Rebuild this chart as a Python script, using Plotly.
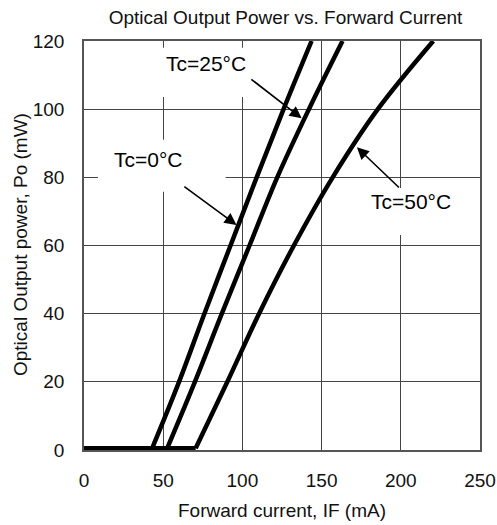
import plotly.graph_objects as go

# Optical output power levels (mW) at which currents were read
power_levels = [0.5, 0.5, 20, 40, 60, 80, 100, 120]

# Forward current (mA) for each temperature
current_tc0 = [0, 43, 60, 76, 92.5, 109, 126, 143.7]
current_tc25 = [0, 52.5, 70, 87, 104.5, 122, 142, 163.2]
current_tc50 = [0, 70.5, 90.5, 110.5, 132.5, 157, 185.5, 220.5]

labels = ["Tc=0°C", "Tc=25°C", "Tc=50°C"]

x_ticks = [0, 50, 100, 150, 200, 250]
y_ticks = [0, 20, 40, 60, 80, 100, 120]

FONT = "Liberation Sans, Arial, sans-serif"

W, H = 497, 525
ML, MR, MT, MB = 84, 17, 41, 75

fig = go.Figure()
for cur in (current_tc0, current_tc25, current_tc50):
    # flat part below threshold
    fig.add_trace(go.Scatter(x=cur[:2], y=power_levels[:2], mode="lines",
                             line=dict(color="black", width=4.5),
                             showlegend=False, hoverinfo="skip"))
    # lasing part above threshold
    fig.add_trace(go.Scatter(x=cur[1:], y=power_levels[1:], mode="lines",
                             line=dict(color="black", width=4.5, shape="spline", smoothing=1.0),
                             showlegend=False, hoverinfo="skip"))

# white label boxes covering the grid
boxes = [
    dict(x0=8.8, x1=89.4, y0=75.8, y1=91.0),
    dict(x0=41.6, x1=108.0, y0=103.6, y1=118.0),
    dict(x0=177.0, x1=253.0, y0=63.1, y1=76.9),
]
for b in boxes:
    fig.add_shape(type="rect", xref="x", yref="y", layer="above",
                  fillcolor="white", line=dict(width=0), **b)

# text labels
text_pos = [(40.6, 85.2), (76.9, 113.4), (206.7, 72.9)]
for lab, (tx, ty) in zip(labels, text_pos):
    fig.add_annotation(x=tx, y=ty, xref="x", yref="y", text=lab, showarrow=False,
                       font=dict(family=FONT, size=21, color="black"))

# arrows: (tip x, tip y, tail x, tail y)
arrows = [(96.3, 66.0, 62.4, 77.6), (137.4, 97.3, 104.7, 109.1), (172.3, 88.8, 199.8, 76.6)]
for (hx, hy, tx, ty) in arrows:
    fig.add_annotation(x=hx, y=hy, ax=tx, ay=ty, xref="x", yref="y", axref="x", ayref="y",
                       text="", showarrow=True, arrowhead=2, arrowsize=1.5,
                       arrowwidth=1.6, arrowcolor="black")

fig.update_layout(
    width=W, height=H,
    margin=dict(l=ML, r=MR, t=MT, b=MB, autoexpand=False),
    paper_bgcolor="white", plot_bgcolor="white",
    font=dict(family=FONT, size=19, color="#111"),
    title=dict(text="Optical Output Power vs. Forward Current", x=285.5 / W, xanchor="center",
               y=1 - 17 / H, yanchor="middle", font=dict(family=FONT, size=19, color="#111")),
    showlegend=False,
)
fig.update_xaxes(range=[0, 250], tickvals=x_ticks, ticks="", ticklabelstandoff=12,
                 automargin=False,
                 showgrid=True, gridcolor="#444", gridwidth=1, zeroline=False,
                 showline=True, linecolor="#555", linewidth=1.5, mirror=True,
                 tickfont=dict(family=FONT, size=19, color="#111"))
fig.update_yaxes(range=[0, 120], tickvals=y_ticks, ticks="", ticklabelstandoff=14,
                 automargin=False,
                 showgrid=True, gridcolor="#444", gridwidth=1, zeroline=False,
                 showline=True, linecolor="#555", linewidth=1.5, mirror=True,
                 tickfont=dict(family=FONT, size=19, color="#111"))

fig.add_annotation(x=0.5, y=(450 - 510) / 409, xref="paper", yref="paper",
                   text="Forward current, IF (mA)", showarrow=False, yanchor="middle",
                   font=dict(family=FONT, size=19, color="#111"))
fig.add_annotation(x=(20 - 84) / 396, y=(450 - 245) / 409, xref="paper", yref="paper",
                   text="Optical Output power, Po (mW)", showarrow=False, textangle=-90,
                   xanchor="center", yanchor="middle",
                   font=dict(family=FONT, size=19, color="#111"))

fig.write_html("out.html", config={"displayModeBar": False},
               post_script="document.body.style.margin='0px';document.body.style.overflow='hidden';")
